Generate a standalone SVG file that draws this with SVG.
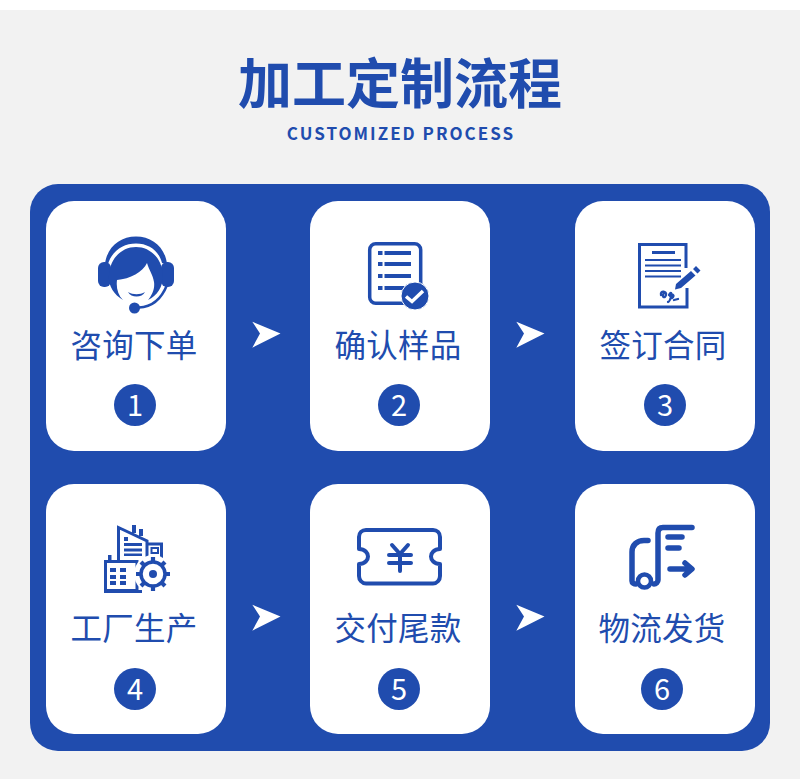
<svg xmlns="http://www.w3.org/2000/svg" width="800" height="779" viewBox="0 0 800 779">
<style>
.zh{font-family:"Noto Sans CJK SC","Liberation Sans",sans-serif}
.lab{font-size:31.5px;font-weight:400;fill:#204cae;text-anchor:middle;letter-spacing:0.3px}
.num{font-family:"Noto Sans CJK SC","Liberation Sans",sans-serif;font-size:29px;fill:#fff;text-anchor:middle}
.card{fill:#fff}
.b{fill:#204cae}
.s{fill:none;stroke:#204cae;stroke-linecap:round;stroke-linejoin:round}
.arrow{fill:#fff}
</style>
<defs>
<path id="arr" d="M0.300 0.700L28.500 12.500L0.300 26.700L8 12.500Z"/>
</defs>
<rect width="800" height="779" fill="#fff"/>
<rect y="10" width="800" height="769" fill="#f2f2f2"/>
<g id="title">
<text class="zh" x="400" y="104" font-size="54" font-weight="700" fill="#204cae" text-anchor="middle">加工定制流程</text>
<text class="zh" x="401" y="139.500" font-size="17" font-weight="700" letter-spacing="2" fill="#204cae" text-anchor="middle">CUSTOMIZED PROCESS</text>
</g>
<rect id="panel" x="30" y="184" width="740" height="567" rx="28" fill="#204cae"/>
<g id="connectors" class="arrow">
<use href="#arr" x="252" y="321"/>
<use href="#arr" x="516" y="321"/>
<use href="#arr" x="252" y="604"/>
<use href="#arr" x="516" y="604"/>
</g>
<g id="node1">
<rect class="card" x="46" y="201" width="180" height="250" rx="28"/>
<path class="b" d="M105 264C107 247 120 236.500 136 236.500C152 236.500 165 247 167 264L162 263C159 251 149 243.500 136 243.500C123 243.500 112 251 108 264Z"/>
<rect class="b" x="98" y="262" width="13" height="25" rx="6"/>
<rect class="b" x="161" y="262" width="13" height="25" rx="6"/>
<path class="b" d="M123 300C113 294 108 285 109 275C110 258 122 247 136 247C150 247 162 258 163 275C163 287 157 296 148 300C152 295 155 289 154 282C153 275 149 270 147 263C143 272 130 279 117 280C116 288 118 295 123 300Z"/>
<path class="b" d="M128 292C133 295 140 295 145 292C142 298 131 298 128 292Z"/>
<path class="s" stroke-width="2.500" d="M139 307.500C151 307 161 300 167 285"/>
<circle class="b" cx="134.500" cy="308" r="5.500"/>
<text class="zh lab" x="134" y="356.500">咨询下单</text>
<circle class="b" cx="135" cy="405" r="21"/><text class="num" x="135" y="415.500">1</text>
</g>
<g id="node2">
<rect class="card" x="310" y="201" width="180" height="250" rx="28"/>
<rect class="s" x="369.700" y="243.700" width="51" height="59.500" rx="6" stroke-width="3.500"/>
<path class="b" d="M378 251h4.500v4h-4.500z M378 262h4.500v4h-4.500z M378 274h4.500v4h-4.500z M378 286h4.500v4h-4.500z M384.500 251h26.500v4h-26.500z M384.500 262h26.500v4h-26.500z M384.500 274h26.500v4h-26.500z M384.500 286h20v4h-20z"/>
<circle cx="415" cy="296" r="14" fill="#204cae" stroke="#fff" stroke-width="1"/>
<path d="M406 296.500L412 301.500L423 291" fill="none" stroke="#fff" stroke-width="3.500"/>
<text class="zh lab" x="398" y="356.500">确认样品</text>
<circle class="b" cx="399" cy="405" r="21"/><text class="num" x="399" y="415.500">2</text>
</g>
<g id="node3">
<rect class="card" x="575" y="201" width="180" height="250" rx="28"/>
<path fill="none" stroke="#204cae" stroke-width="3" d="M687 288V307H639.500V244.500H686V268"/>
<path class="b" d="M652 251h23v3h-23z M645 259h36v2h-36z M645 264.500h36v2h-36z M645 270h36v2h-36z M645 275.500h36v2h-36z"/>
<path class="b" d="M693 269L696 266L700.500 270.500L697.500 273.500Z M691 271L695.500 275.500L681 288L675 289.500L676 284Z"/>
<path class="s" stroke-width="2.300" d="M661 295C660 290 667 291 666 295C665 299 661 297 664 293M669 295C671 291 672 293 671 297C670 300 669 302 668 302M670 296C673 293 675 296 672 298M674 300L678 299"/>
<text class="zh lab" x="663" y="356.500">签订合同</text>
<circle class="b" cx="665" cy="405" r="21"/><text class="num" x="665" y="415.500">3</text>
</g>
<g id="node4">
<rect class="card" x="46" y="484" width="180" height="250" rx="28"/>
<path fill="none" stroke="#204cae" stroke-width="3" d="M118.500 562V527.500L147 541V560M147 544H161.500V558"/>
<path class="b" d="M132 525h4v8h-4z M139 529h4v7h-4z M124 537h4v4h-4z M124 543h18v3h-18z M124 548.500h18v3h-18z M124 553.500h18v2.500h-18z"/>
<rect x="151.500" y="548" width="6.500" height="5" fill="none" stroke="#204cae" stroke-width="2"/>
<path class="b" d="M108 555h3.500v5h-3.500z"/>
<path fill="#fff" stroke="#204cae" stroke-width="3" d="M105.500 561.500H137V590.500H105.500Z"/>
<path class="b" d="M104 590h38v3h-38z M110 568h6v4h-6zM120 568h6v4h-6zM110 575h6v4h-6zM120 575h6v4h-6zM110 581h6v4h-6zM120 581h6v4h-6z"/>
<circle cx="153" cy="574" r="19" fill="#fff"/>
<circle cx="153" cy="574" r="12" fill="#fff" stroke="#204cae" stroke-width="3.500"/>
<circle class="b" cx="153" cy="574" r="4"/>
<path fill="none" stroke="#204cae" stroke-width="4.200" d="M153 557v5M153 586v5M136 574h5M165 574h5M141 562l3.500 3.500M161.500 582.500l3.500 3.500M141 586l3.500-3.500M161.500 565.500l3.500-3.500"/>
<text class="zh lab" x="134" y="639.500">工厂生产</text>
<circle class="b" cx="135" cy="689" r="21"/><text class="num" x="135" y="699.500">4</text>
</g>
<g id="node5">
<rect class="card" x="310" y="484" width="180" height="250" rx="28"/>
<path class="s" stroke-width="4" d="M366 530H433C437 530 440 533 440 537V549C434 549 431 553 431 556.500C431 560 434 564 440 564V576C440 580 437 583.500 433 583.500H366C362 583.500 359 580 359 576V564C365 564 368 560 368 556.500C368 553 365 549 359 549V537C359 533 362 530 366 530Z"/>
<path class="s" stroke-width="4" d="M392 545L400 554L408 545M389 555H411M389 563H411M400 554V571"/>
<text class="zh lab" x="398" y="639.500">交付尾款</text>
<circle class="b" cx="399" cy="689" r="21"/><text class="num" x="399" y="699.500">5</text>
</g>
<g id="node6">
<rect class="card" x="575" y="484" width="180" height="250" rx="28"/>
<path class="s" stroke-width="5.500" d="M648 540.500H644C637 540.500 632 545 632 552V581C632 583 634 584 636 584 M692 527.500H663C659.500 527.500 658 529.500 658 533V580C658 582 656 584 654 584"/>
<circle cx="644.500" cy="581" r="6.500" fill="#fff" stroke="#204cae" stroke-width="4.500"/>
<path class="s" stroke-width="5.500" d="M668 537H682M668 548H679M670 569H690M685 563L692 569L685 575"/>
<text class="zh lab" x="662" y="639.500">物流发货</text>
<circle class="b" cx="662" cy="689" r="21"/><text class="num" x="662" y="699.500">6</text>
</g>
</svg>
